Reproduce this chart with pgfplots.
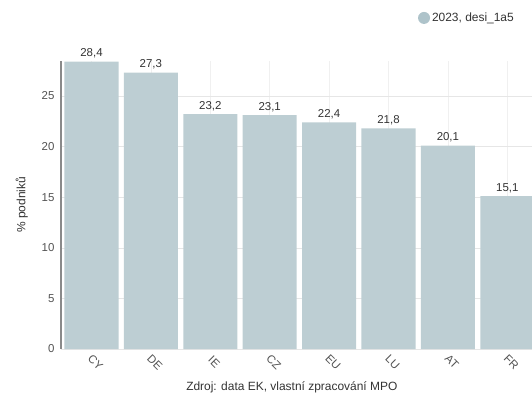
\documentclass[border=0pt]{standalone}
\usepackage{pgfplots}
\pgfplotsset{compat=1.18}
\usepackage{fontspec}
\setmainfont{Liberation Sans}
\definecolor{barc}{HTML}{BDCED3}
\definecolor{legc}{HTML}{AEC3CA}
\definecolor{gridc}{HTML}{E6E6E6}
\definecolor{vgridc}{HTML}{F0F0F0}
\definecolor{txtc}{HTML}{333333}
\definecolor{axc}{HTML}{8A8A8A}
\begin{document}
\begin{tikzpicture}[x=1bp,y=1bp]
\useasboundingbox (0,0) rectangle (532,403);
\begin{axis}[
  at={(61bp,54bp)}, anchor=south west,
  scale only axis, width=471bp, height=288.4bp,
  xmin=-0.513, xmax=7.416, ymin=0, ymax=28.5,
  xtick={0,...,7},
  xticklabels={CY,DE,IE,CZ,EU,LU,AT,FR},
  ytick={0,5,10,15,20,25},
  ybar, bar width=0.91,
  axis y line*=left, axis x line*=bottom,
  y axis line style={draw=axc, line width=1.5bp, -},
  x axis line style={draw=none},
  major tick length=0pt,
  ymajorgrids, xmajorgrids,
  grid style={gridc, line width=0.6bp},
  major y grid style={gridc, line width=0.6bp},
  major x grid style={vgridc, line width=0.6bp},
  tick label style={font=\fontsize{11.5}{13}\selectfont, text=txtc!85},
  /pgf/number format/assume math mode=true,
  yticklabel style={anchor=east, xshift=-3bp},
  xticklabel style={yshift=-13bp, xshift=4bp, rotate=-45, anchor=center},
  ylabel={\% podniků},
  ylabel style={font=\fontsize{12}{14}\selectfont, text=txtc, at={(axis description cs:-0.083,0.5)}, anchor=center},
  nodes near coords,
  nodes near coords style={font=\fontsize{11.5}{13}\selectfont, text=txtc, /pgf/number format/.cd, fixed, fixed zerofill, precision=1, use comma, assume math mode=true},
  legend style={at={(axis description cs:0.966,1.148)}, anchor=east, draw=none, fill=none, font=\fontsize{12}{14}\selectfont, text=txtc, inner sep=0pt, legend cell align=left},
  legend image code/.code={\fill[legc] (4bp,0) circle (6bp);},
  clip mode=individual,
]
\addplot[fill=barc, draw=none] coordinates {(0,28.4) (1,27.3) (2,23.2) (3,23.1) (4,22.4) (5,21.8) (6,20.1) (7,15.1)};
\addlegendentry{2023, desi\_1a5}
\node[font=\fontsize{12}{14}\selectfont, text=txtc] at (axis description cs:0.490,-0.132) {Zdroj: data EK, vlastní zpracování MPO};
\end{axis}
\end{tikzpicture}
\end{document}
